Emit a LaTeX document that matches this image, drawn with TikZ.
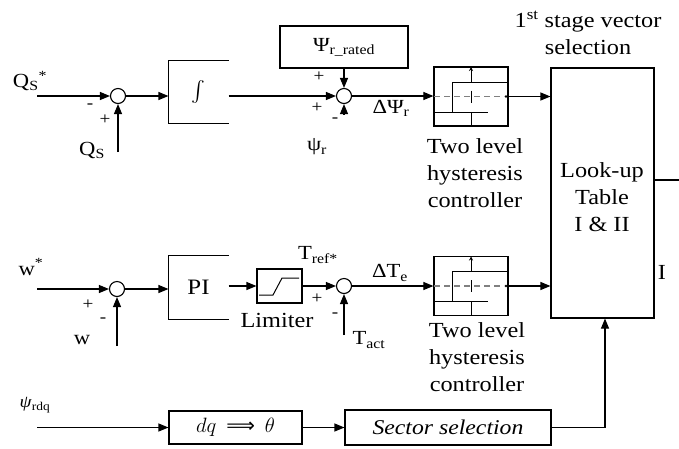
\documentclass[tikz,border=0pt]{standalone}
\usepackage{amsmath}
\usepackage{fontspec}
\setmainfont[FakeStretch=1.13]{Liberation Serif}
\newfontfamily\arrowfont{DejaVu Sans}
\usetikzlibrary{arrows.meta}
\begin{document}
\begin{tikzpicture}[x=1pt,y=-1pt, line width=1.1pt,
 arr/.style={-{Triangle[length=10pt,width=8pt]}},
 sumc/.style={circle,draw,minimum size=15pt,inner sep=0pt},
 blk/.style={draw,inner sep=0pt},
 txt/.style={font=\fontsize{21.5}{27}\selectfont, inner sep=0pt, align=center},
 lbl/.style={font=\fontsize{20}{24}\selectfont, inner sep=0pt},
 sgn/.style={font=\fontsize{17}{20}\selectfont, inner sep=0pt},
 hyst/.pic={
   \draw[gray, line width=1.2pt, dash pattern=on 6pt off 4pt] (-37,0) -- (33,0);
   \fill (35,0) circle (1.3pt);
   \draw[line width=1pt, -{Stealth[length=4pt,width=4pt]}] (0,-14.5) -- (0,-29.5);
   \draw[line width=1pt] (0,-6) -- (0,6);
   \draw[line width=1pt] (0,15.5) -- (0,29.5);
   \draw[line width=1pt] (37,-14.5) -- (-19,-14.5) -- (-19,15.5);
   \draw[line width=1pt] (-37,15.5) -- (17,15.5);
 },
]
\useasboundingbox (0,0) rectangle (679,448);

% ---------- row 1 ----------
\node[lbl] (qsref) at (30,81) {Q\textsubscript{S}\textsuperscript{*}};
\coordinate (qsin) at (37,96);
\node[sumc] (s1) at (118,96) {};
\draw[arr] (qsin) -- (s1.west);
\coordinate (qsfb) at (118,152);
\draw[arr] (qsfb) -- (s1.south);
\node[lbl] (qs) at (92,150) {Q\textsubscript{S}};
\node[sgn] (s1m) at (90,106) {-};
\node[sgn] (s1p) at (105,120) {+};

\node[minimum width=59pt, minimum height=62pt, inner sep=0pt] (int) at (198.5,92) {\fontsize{20}{24}\selectfont$\int$};
\draw (int.north east) -- (int.north west) -- (int.south west) -- (int.south east);
\draw[arr] (s1.east) -- (s1 -| int.west);

\node[sumc] (s2) at (344,96) {};
\draw[arr] (s1 -| int.east) -- (s2.west);
\node[blk, minimum width=128pt, minimum height=42pt] (psr) at (344,47) {\fontsize{20}{24}\selectfont Ψ\textsubscript{r\_rated}};
\draw[arr] (psr.south) -- (s2.north);
\coordinate (psin) at (344,114);
\draw[arr] (psin) -- (s2.south);
\node[sgn] (s2p1) at (319,77) {+};
\node[sgn] (s2p2) at (317,108) {+};
\node[sgn] (s2m) at (335,120) {-};
\node[lbl] (psil) at (317,147) {ψ\textsubscript{r}};

\node[blk, minimum width=74pt, minimum height=59pt, line width=1.2pt] (h1) at (471,96.5) {};
\pic (h1p) at (h1.center) {hyst};
\draw[arr] (s2.east) -- (s2 -| h1.west);
\node[lbl] (dpsi) at (391,108) {ΔΨ\textsubscript{r}};
\node[txt] (ht1) at (475,173) {Two level\\hysteresis\\controller};

% ---------- table ----------
\node[blk, minimum width=103pt, minimum height=250pt] (tab) at (602.5,193) {};
\node[txt] (tabt) at (602,197) {Look-up\\Table\\I \& II};
\node[txt] (stage) at (588,33) {1\textsuperscript{st} stage vector\\selection};
\draw[arr] (h1.east) -- (h1.east -| tab.west);
\coordinate (edge) at (679,180);
\draw (tab.east |- edge) -- (edge);
\node[txt] (cutI) at (662,272) {I};

% ---------- row 2 ----------
\node[lbl] (wref) at (31,267) {w\textsuperscript{*}};
\coordinate (win) at (37,289);
\node[sumc] (s3) at (117,289) {};
\draw[arr] (win) -- (s3.west);
\coordinate (wfb) at (117,346);
\draw[arr] (wfb) -- (s3.south);
\node[lbl] (wl) at (82,340) {w};
\node[sgn] (s3p) at (88,305) {+};
\node[sgn] (s3m) at (103,320) {-};

\node[minimum width=59pt, minimum height=63pt, inner sep=0pt] (pi) at (198.5,287.5) {\fontsize{22}{26}\selectfont PI};
\draw (pi.north east) -- (pi.north west) -- (pi.south west) -- (pi.south east);
\draw[arr] (s3.east) -- (s3 -| pi.west);

\node[blk, minimum width=45pt, minimum height=34pt] (lim) at (279.5,286) {};
\draw[line width=1pt] ([shift={(-20.5,9)}]lim.center) -- ++(14,0) -- ++(9,-17) -- ++(17,0);
\draw[arr] (pi.east |- lim) -- (lim.west);
\node[txt] (liml) at (277,320) {Limiter};

\node[sumc] (s4) at (344,286) {};
\draw[arr] (lim.east) -- (s4.west);
\node[lbl] (tref) at (318,255) {T\textsubscript{ref*}};
\node[sgn] (s4p) at (317,299) {+};
\node[sgn] (s4m) at (335,315) {-};
\coordinate (tin) at (344,335);
\draw[arr] (tin) -- (s4.south);
\node[lbl] (tact) at (369,340) {T\textsubscript{act}};

\node[blk, minimum width=74pt, minimum height=59pt, line width=1.2pt] (h2) at (471,286) {};
\pic (h2p) at (h2.center) {hyst};
\draw[arr] (s4.east) -- (h2.west);
\node[lbl] (dte) at (390,273) {ΔT\textsubscript{e}};
\draw[arr] (h2.east) -- (h2.east -| tab.west);
\node[txt] (ht2) at (477,357) {Two level\\hysteresis\\controller};

% ---------- row 3 ----------
\node[inner sep=0pt, font=\fontsize{17}{20}\selectfont] (psdq) at (35,405) {\textit{ψ}\textsubscript{rdq}};
\coordinate (psdqin) at (37,427.5);
\node[blk, minimum width=133pt, minimum height=33pt] (dq) at (235.5,427.5) {\fontsize{21}{24}\selectfont$dq$\hspace{10pt}{\arrowfont\fontsize{20}{24}\selectfont ⟹}\hspace{10pt}$\theta$};
\draw[arr] (psdqin) -- (dq.west);
\node[blk, minimum width=206pt, minimum height=35pt] (sec) at (448,427.5) {\fontsize{21}{25}\selectfont\textit{Sector selection}};
\draw[arr] (dq.east) -- (sec.west);
\draw[arr] (sec.east) -| ([xshift=2.5pt]tab.south);
\end{tikzpicture}
\end{document}
